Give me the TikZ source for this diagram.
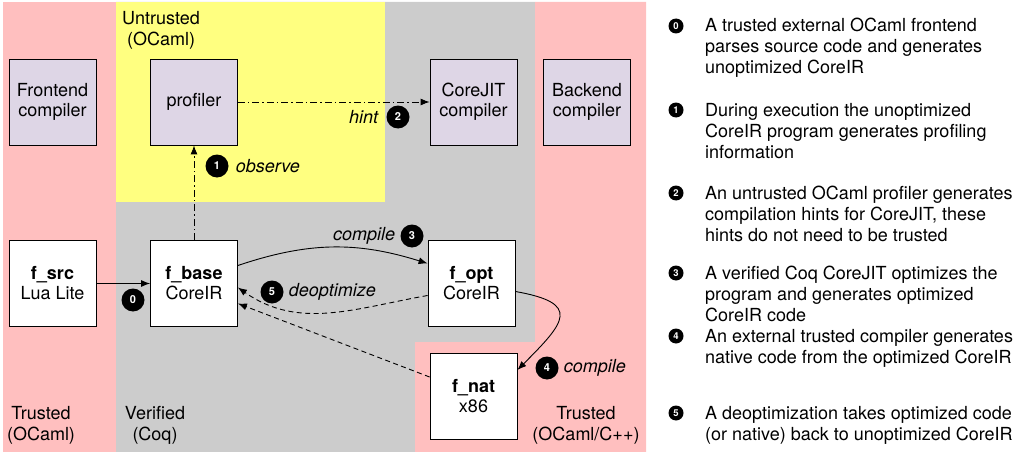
\documentclass[tikz,border=0pt]{standalone}
\usepackage{fontspec}
\setmainfont{TeX Gyre Heros}
\usepackage{xcolor}
\usepackage{tikz}
\usetikzlibrary{arrows.meta,positioning}
\definecolor{trusted}{HTML}{FFBFBF}
\definecolor{untrusted}{HTML}{FFFF80}
\definecolor{verified}{HTML}{CCCCCC}
\definecolor{toolbg}{HTML}{DED6E6}
\definecolor{ink}{HTML}{000000}
\tikzset{
  tool/.style={draw=ink, fill=toolbg, line width=0.8pt, minimum width=87pt, minimum height=86pt, inner sep=0pt, align=center, font=\fontsize{18}{20}\selectfont},
  prog/.style={tool, fill=white},
  flow/.style={draw=ink, line width=0.9pt, -{Latex[length=9pt,width=7pt]}},
  hintline/.style={flow, dash pattern=on 7pt off 3pt on 1.5pt off 3pt},
  deopt/.style={flow, dash pattern=on 5pt off 3.5pt},
  num/.style={circle, fill=ink, text=white, inner sep=0pt, minimum size=23pt, font=\bfseries\fontsize{11}{11}\selectfont},
  lnum/.style={num, minimum size=15pt, font=\bfseries\fontsize{9.5}{9.5}\selectfont},
  act/.style={inner sep=0pt, font=\itshape\fontsize{18}{20}\selectfont},
  zone/.style={anchor=base, align=center, inner sep=0pt, font=\fontsize{18}{21}\selectfont},
  note/.style={anchor=base west, align=left, inner sep=0pt, font=\fontsize{18}{21}\selectfont},
}

\begin{document}
\begin{tikzpicture}[x=1pt,y=-1pt]
\useasboundingbox (0,0) rectangle (1026,452);
% zones (base anchor sits on the last line)
\fill[verified] (116,2) -- (535,2) -- (535,342) -- (415,342) -- (415,452) -- (116,452) -- cycle;
\fill[trusted] (3,2) rectangle (116,452);
\fill[trusted] (535,2) -- (646,2) -- (646,452) -- (415,452) -- (415,342) -- (535,342) -- cycle;
\fill[untrusted] (116,2) rectangle (385,202);
\node[zone] (untr) at (161,46) {Untrusted\\(OCaml)};
\node[zone] (trl) at (41,440) {Trusted\\(OCaml)};
\node[zone] (ver) at (155,440) {Verified\\(Coq)};
\node[zone] (trr) at (586,440) {Trusted\\(OCaml/C++)};
% tools
\node[tool] (frontend) at (52.5,102) {Frontend\\compiler};
\node[tool] (profiler) at (194,102) {profiler};
\node[tool] (corejit) at (473.5,102) {CoreJIT\\compiler};
\node[tool] (backend) at (587,102) {Backend\\compiler};
% programs
\node[prog] (fsrc) at (52.5,283.5) {\textbf{f\_src}\\Lua Lite};
\node[prog] (fbase) at (194,283.5) {\textbf{f\_base}\\CoreIR};
\node[prog] (fopt) at (471.5,283.5) {\textbf{f\_opt}\\CoreIR};
\node[prog] (fnat) at (473.5,396) {\textbf{f\_nat}\\x86};
% connectors
\draw[flow] (fsrc) -- (fbase);
\draw[hintline] (fbase) -- (profiler);
\draw[hintline] (profiler) -- (corejit);
\draw[flow] ([yshift=18pt]fbase.east) to[bend left=18] ([yshift=20pt]fopt.west);
\draw[deopt] ([yshift=-12pt]fopt.west) to[out=190,in=-35] ([yshift=-4pt]fbase.east);
\draw[deopt] ([yshift=19pt]fnat.west) -- ([yshift=-20pt]fbase.east);
\draw[flow] ([yshift=-8pt]fopt.east) to[out=-10,in=45,looseness=2.2] ([yshift=26pt]fnat.east);
% steps
\node[num] (s0) at (133,300) {0};
\node[num] (s1) at (217,166) {1};
\node[act, right=7pt of s1] {observe};
\node[num] (s2) at (398,117) {2};
\node[act, left=8pt of s2] {hint};
\node[num] (s3) at (412,236) {3};
\node[act, left=5pt of s3] {compile};
\node[num] (s5) at (272,292) {5};
\node[act, right=5pt of s5] {deoptimize};
\node[num] (s4) at (547,368) {4};
\node[act, right=5pt of s4] {compile};
% legend
\foreach \i/\y/\n/\txt in {
  0/26/3/{A trusted external OCaml frontend\\parses source code and generates\\unoptimized CoreIR},
  1/110/3/{During execution the unoptimized\\CoreIR program generates profiling\\information},
  2/193/3/{An untrusted OCaml profiler generates\\compilation hints for CoreJIT, these\\hints do not need to be trusted},
  3/273/3/{A verified Coq CoreJIT optimizes the\\program and generates optimized\\CoreIR code},
  4/336/2/{An external trusted compiler generates\\native code from the optimized CoreIR},
  5/413/2/{A deoptimization takes optimized code\\(or native) back to unoptimized CoreIR}}{
  \node[lnum] (c\i) at (676,\y) {\i};
  \node[note] (t\i) at (705,{\y+6+(\n-1)*21}) {\txt};
}
\end{tikzpicture}
\end{document}
